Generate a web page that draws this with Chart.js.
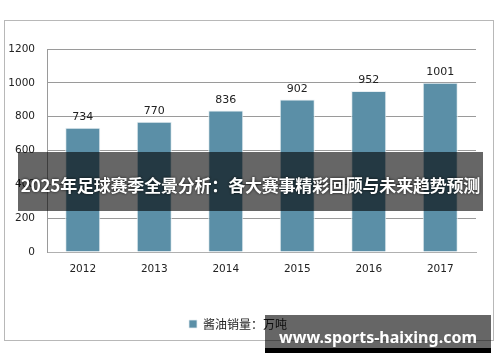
<!DOCTYPE html>
<html><head><meta charset="utf-8">
<script src="https://cdn.jsdelivr.net/npm/chart.js@4"></script>
<style>
html,body{margin:0;padding:0;background:#fff;}
#wrap{position:relative;width:500px;height:362px;overflow:hidden;}
#frame{position:absolute;left:4px;top:20px;width:490px;height:321px;border:1px solid #b8b8b8;box-sizing:border-box;}
canvas{position:absolute;left:0;top:0;}
#banner{position:absolute;left:18px;top:152px;width:465px;height:59px;background:rgba(0,0,0,0.6);color:#fff;font:bold 17px "Noto Sans CJK SC",sans-serif;display:flex;align-items:center;justify-content:center;white-space:nowrap;text-shadow:0 0 3px rgba(0,0,0,0.8);padding-top:6px;box-sizing:border-box;letter-spacing:-0.2px;}
#wm{position:absolute;left:265px;top:315px;width:226px;height:33px;background:rgba(0,0,0,0.6);color:#fff;font:bold 16px "Noto Sans","DejaVu Sans",sans-serif;display:flex;align-items:center;justify-content:center;white-space:nowrap;padding-top:10px;box-sizing:border-box;}
#wmbar{position:absolute;left:265px;top:348px;width:226px;height:5px;background:#000;}
</style></head>
<body><div id="wrap">
<div id="frame"></div>
<canvas id="c" width="500" height="362"></canvas>
<div id="banner">2025年足球赛季全景分析：各大赛事精彩回顾与未来趋势预测</div>
<div id="wm">www.sports-haixing.com</div>
<div id="wmbar"></div>
</div>
<script>
const categories = ["2012","2013","2014","2015","2016","2017"];
const salesValues = [734, 770, 836, 902, 952, 1001];
const seriesName = "酱油销量：万吨";
const yTicks = [0, 200, 400, 600, 800, 1000, 1200];

const valueLabels = {
  id: 'valueLabels',
  afterDatasetsDraw(chart) {
    const ctx = chart.ctx;
    const meta = chart.getDatasetMeta(0);
    ctx.save();
    ctx.font = '11px "DejaVu Sans", sans-serif';
    ctx.fillStyle = '#222';
    ctx.textAlign = 'center';
    ctx.textBaseline = 'bottom';
    meta.data.forEach((bar, i) => {
      ctx.fillText(String(chart.data.datasets[0].data[i]), bar.x, bar.y - 5);
    });
    ctx.restore();
  }
};

new Chart(document.getElementById('c'), {
  type: 'bar',
  data: {
    labels: categories,
    datasets: [{
      label: seriesName,
      data: salesValues,
      backgroundColor: '#5b8fa7',
      borderColor: '#e6eef2',
      borderWidth: {left:1,right:1,top:1,bottom:0},
      categoryPercentage: 1.0,
      barPercentage: 0.49
    }]
  },
  options: {
    responsive: false,
    animation: false,
    devicePixelRatio: 1,
    layout: { padding: { top: 49, right: 24, bottom: 22, left: 0 } },
    plugins: {
      legend: {
        position: 'bottom',
        labels: {
          boxWidth: 8, boxHeight: 8, color: '#222', padding: 10,
          font: { size: 12, family: '"Noto Sans CJK SC", sans-serif' }
        }
      },
      tooltip: { enabled: false }
    },
    scales: {
      x: {
        grid: { display: false, drawTicks: false },
        border: { display: true, color: '#b0b0b0' },
        ticks: { color: '#222', padding: 11, font: { size: 10.5, family: '"DejaVu Sans", sans-serif' } },
        afterFit(scale) { scale.height = 56; }
      },
      y: {
        min: 0, max: 1200,
        afterBuildTicks(scale) { scale.ticks = yTicks.map(v => ({ value: v })); },
        grid: { color: '#9a9a9a', drawTicks: false },
        border: { display: true, color: '#9a9a9a' },
        ticks: { color: '#222', padding: 12, font: { size: 10.5, family: '"DejaVu Sans", sans-serif' },
                 callback: (v) => String(v) },
        afterFit(scale) { scale.width = 47; }
      }
    }
  },
  plugins: [valueLabels]
});
</script>
</body></html>
